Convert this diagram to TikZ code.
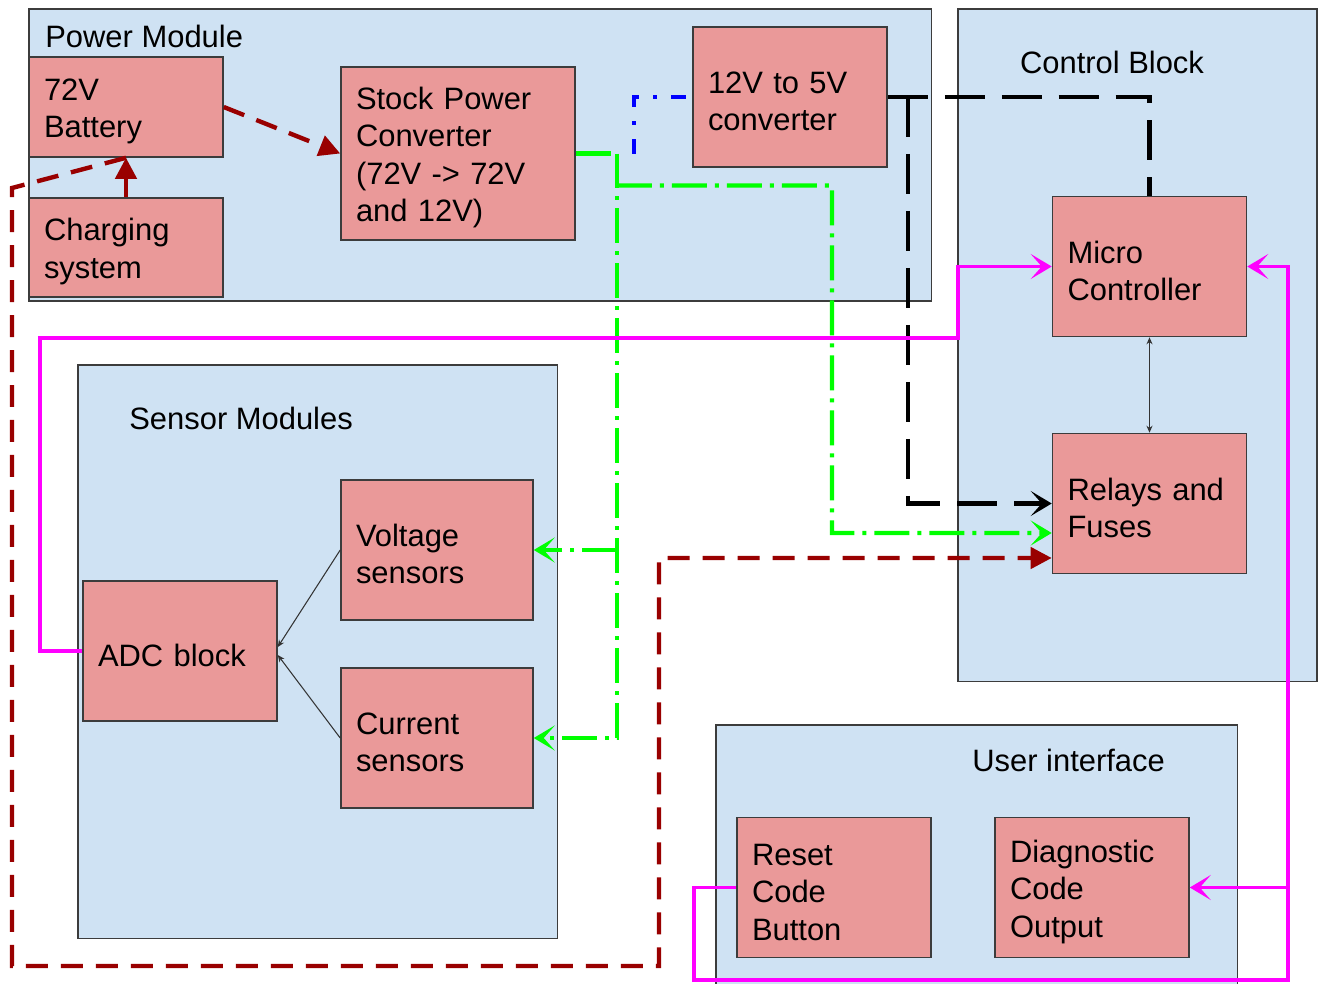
\documentclass[tikz,border=0pt]{standalone}
\usepackage{fontspec}
\setmainfont{Liberation Sans}
\usepackage{xcolor}
\usepackage{tikz}
\usetikzlibrary{arrows.meta}
\definecolor{groupblue}{HTML}{CFE2F3}
\definecolor{partred}{HTML}{EA9999}
\definecolor{edgegray}{HTML}{3C3C3C}
\definecolor{mainsred}{HTML}{990000}
\definecolor{railgreen}{HTML}{00FF00}
\definecolor{logicblue}{HTML}{0000FF}
\definecolor{busmagenta}{HTML}{FF00FF}

\tikzset{
  module/.style={draw=edgegray, fill=groupblue, line width=0.9pt, anchor=north west, inner sep=0pt},
  modtitle/.style={anchor=base west, inner sep=0pt},
  part/.style={draw=edgegray, fill=partred, line width=0.9pt, text width=3.28cm, inner xsep=0.3cm, inner ysep=0pt, minimum height=2.8cm, align=left, execute at begin node={\rule{0pt}{17.5pt}}},
  mains/.style={draw=mainsred, line width=2.5pt, dash pattern=on 0.44cm off 0.26cm},
  supply/.style={draw=railgreen, line width=2.5pt, dash pattern=on 0.7cm off 0.16cm on 0.08cm off 0.16cm},
  logicline/.style={draw=logicblue, line width=2.5pt, dash pattern=on 0.3cm off 0.28cm on 0.08cm off 0.28cm},
  ctrlline/.style={draw=black, line width=2.5pt, dash pattern=on 0.8cm off 0.34cm},
  sigline/.style={draw=busmagenta, line width=2.2pt},
  link/.style={draw=black!80, line width=0.6pt, >={Stealth[length=0.14cm,width=0.12cm]}},
  feed/.style={-{Stealth[length=0.42cm,width=0.5cm,inset=0.22cm]}},
  wedge/.style={-{Triangle[length=0.42cm,width=0.42cm]}},
}

\begin{document}
\begin{tikzpicture}[x=0.02cm, y=-0.02cm, font=\fontsize{17.6pt}{21.3pt}\selectfont]
  \useasboundingbox (0,0) rectangle (1320,984);

  % groups
  \node[module, minimum width=18.06cm, minimum height=5.84cm] (powermod) at (28,8) {};
  \node[module, minimum width=7.18cm, minimum height=13.46cm] (ctrlmod) at (957,8) {};
  \node[module, minimum width=9.6cm, minimum height=11.48cm] (sensmod) at (77,364) {};
  \node[module, minimum width=10.44cm, minimum height=5.6cm] (uimod) at (715,724) {};

  \node[modtitle] (powertitle) at (45,47.5) {Power Module};
  \node[modtitle, anchor=base] (ctrltitle) at (1112,73.5) {Control Block};
  \node[modtitle] (senstitle) at (129,429.5) {Sensor Modules};
  \node[modtitle] (uititle) at (972,771.5) {User interface};

  % blocks
  \node[part, minimum height=2cm] (battery) at (126,107) {72V\\Battery};
  \node[part, minimum height=1.98cm] (charger) at (126,247.5) {Charging\\system};
  \node[part, text width=4.08cm, minimum height=3.46cm] (stock) at (458,153.5) {Stock Power\\Converter\\(72V -> 72V\\and 12V)};
  \node[part] (conv12) at (790,97) {12V to 5V\\converter};
  \node[part] (micro) at (1149.5,266.5) {Micro\\Controller};
  \node[part] (relays) at (1149.5,503.5) {Relays and\\Fuses};
  \node[part, text width=3.24cm] (voltage) at (437,550) {Voltage\\sensors};
  \node[part, text width=3.24cm] (current) at (437,738) {Current\\sensors};
  \node[part] (adc) at (180,651) {ADC block};
  \node[part] (reset) at (834,887.5) {Reset\\Code\\Button};
  \node[part] (diag) at (1092,887.5) {Diagnostic\\Code\\Output};

  % 72V path
  \draw[mains, wedge] (battery.east) -- (stock.west);
  \draw[draw=mainsred, line width=2.5pt, wedge] (charger.north) -- (battery.south);
  \draw[mains, wedge] (battery.south) -- (12,188) -- (12,966) -- (659,966) -- (659,558) -- ([yshift=-1.09cm]relays.west);

  % 12V rail
  \coordinate (split) at (617,153.5);
  \draw[supply] (stock.east) -- (split);
  \draw[logicline] (split) ++(17,0) |- (conv12.west);
  \draw[supply, feed] (split) |- (current.east);
  \draw[supply, feed] (split |- voltage.east) -- (voltage.east);
  \draw[supply, feed] ([yshift=-0.64cm]split) -| (832,533) -- ([yshift=-0.59cm]relays.west);

  % 5V
  \coordinate (fork) at ([xshift=0.4cm]conv12.east);
  \draw[ctrlline] (conv12.east) -| (micro.north);
  \draw[ctrlline, feed] (fork) |- (relays.west);

  \draw[link, <->] (micro.south) -- (relays.north);
  \draw[link, ->] (voltage.west) -- ([yshift=0.08cm]adc.east);
  \draw[link, ->] (current.west) -- ([yshift=-0.08cm]adc.east);

  % signals
  \draw[sigline, feed] (adc.west) -| (40,338) -| (958,266.5) -- (micro.west);
  \draw[sigline, feed] (reset.west) -- (694,887.5) |- (1288,980) |- (micro.east);
  \draw[sigline, feed] (1288,887.5) -- (diag.east);
\end{tikzpicture}
\end{document}
